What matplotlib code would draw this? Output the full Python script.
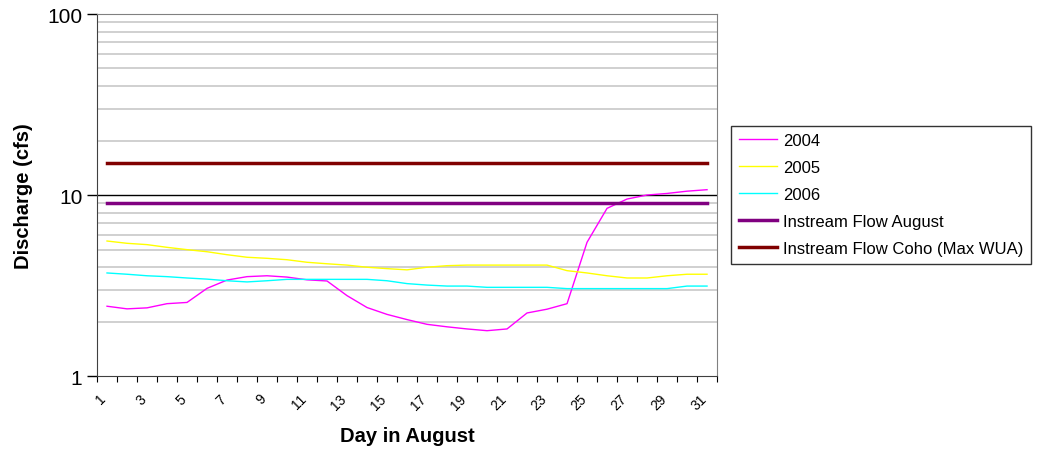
import numpy as np
import matplotlib
matplotlib.use('Agg')
import matplotlib.pyplot as plt
from matplotlib.ticker import FixedLocator, NullFormatter

plt.rcParams['font.family'] = ['Liberation Sans', 'DejaVu Sans']

# Daily discharge in August (cfs)
days = list(range(1, 32))
q2004 = [2.43, 2.35, 2.38, 2.51, 2.55, 3.05, 3.39, 3.54, 3.58, 3.52, 3.40, 3.35, 2.78, 2.39, 2.19, 2.05,
         1.93, 1.87, 1.82, 1.78, 1.82, 2.23, 2.34, 2.51, 5.48, 8.44, 9.5, 10.0, 10.2, 10.5, 10.7]
q2005 = [5.57, 5.41, 5.32, 5.14, 4.99, 4.86, 4.68, 4.53, 4.47, 4.39, 4.25, 4.17, 4.10, 3.99, 3.92, 3.86,
         3.99, 4.07, 4.10, 4.10, 4.10, 4.10, 4.10, 3.82, 3.71, 3.58, 3.48, 3.48, 3.58, 3.65, 3.65]
q2006 = [3.71, 3.65, 3.58, 3.54, 3.48, 3.43, 3.36, 3.31, 3.36, 3.42, 3.42, 3.42, 3.42, 3.42, 3.36, 3.24,
         3.18, 3.14, 3.14, 3.09, 3.09, 3.09, 3.09, 3.04, 3.04, 3.04, 3.04, 3.04, 3.04, 3.14, 3.14]
flow_august = 9.0
flow_coho = 15.0

fig = plt.figure(figsize=(10.41, 4.56), dpi=100)
ax = fig.add_axes([0.0932, 0.1732, 0.5956, 0.7939])

ax.plot(days, q2004, c='#FF00FF', lw=1, label='2004')
ax.plot(days, q2005, c='#FFFF00', lw=1, label='2005')
ax.plot(days, q2006, c='#00FFFF', lw=1, label='2006')
ax.plot(days, [flow_august] * len(days), c='#800080', lw=2.5, label='Instream Flow August')
ax.plot(days, [flow_coho] * len(days), c='#800000', lw=2.5, label='Instream Flow Coho (Max WUA)')

ax.set_yscale('log')
ax.set_ylim(1, 100)
ax.set_xlim(0.5, 31.5)

# gridlines: minor grey, 10 black
minors = [m * 10 ** e for e in (0, 1) for m in range(2, 10)]
ax.yaxis.set_minor_locator(FixedLocator(minors))
ax.yaxis.set_minor_formatter(NullFormatter())
ax.set_yticks([1, 10, 100], ['1', '10', '100'])
for v in minors:
    ax.axhline(v, color='#C8C8C8', lw=1.2, zorder=0)
ax.axhline(10, color='black', lw=1, zorder=0)
ax.tick_params(axis='y', which='major', labelsize=15, length=7, direction='out', width=1)
ax.tick_params(axis='y', which='minor', length=0)

# x: ticks between categories, labels on odd days
ax.set_xticks(np.arange(0.5, 32, 1))
ax.set_xticklabels([])
ax.set_xticks([d - 0.4 for d in days[::2]], [str(d) for d in days[::2]], minor=True)
ax.tick_params(axis='x', which='major', length=4, direction='out')
ax.tick_params(axis='x', which='minor', length=0, labelsize=10, pad=11)
for lbl in ax.get_xticklabels(minor=True):
    lbl.set_rotation(45)
    lbl.set_ha('right')
    lbl.set_rotation_mode('anchor')

for s in ('top', 'right'):
    ax.spines[s].set_color('#808080')
ax.spines['left'].set_color('#404040')
ax.spines['bottom'].set_color('#404040')

ax.set_ylabel('Discharge (cfs)', fontsize=14.5, fontweight='bold', labelpad=10)
ax.set_xlabel('Day in August', fontsize=14.5, fontweight='bold', labelpad=10)

leg = ax.legend(loc='center left', bbox_to_anchor=(1.0226, 0.501), borderaxespad=0, fontsize=12,
                frameon=True, fancybox=False, edgecolor='black', handlelength=2.3,
                handletextpad=0.35, labelspacing=0.72, borderpad=0.45)
leg.get_frame().set_linewidth(1)

fig.savefig('out.png', dpi=100)
